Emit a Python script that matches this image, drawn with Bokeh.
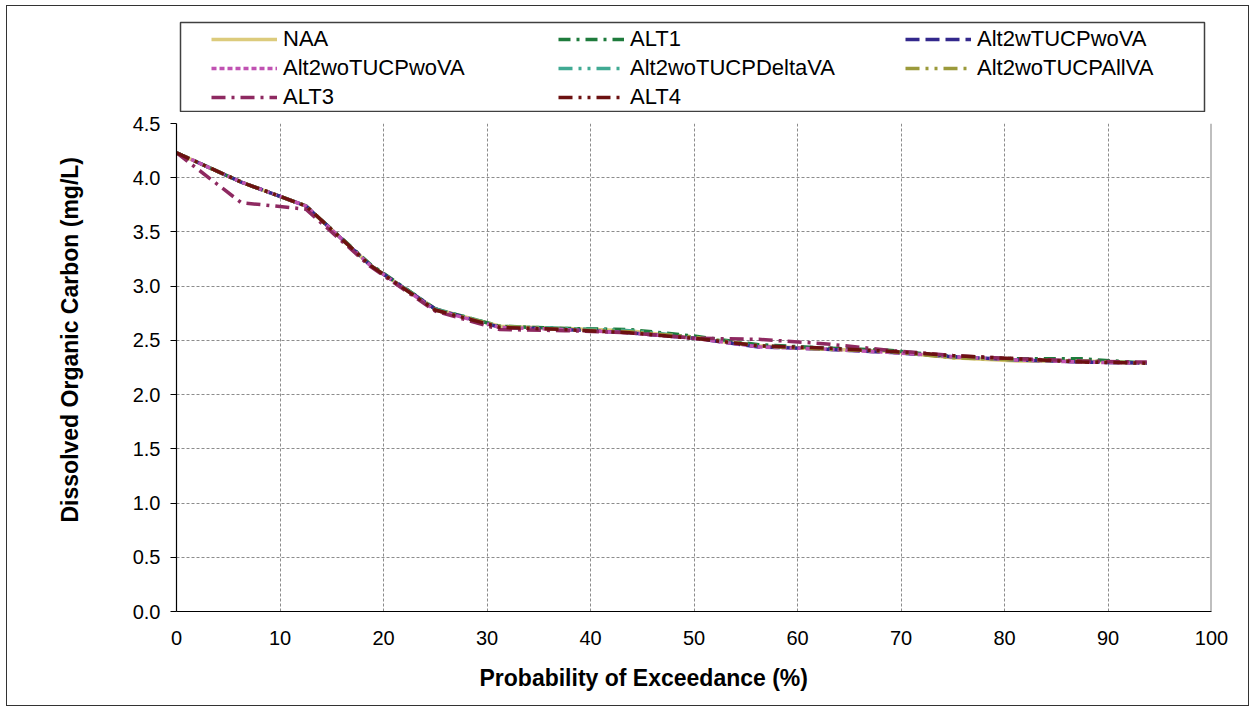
from bokeh.plotting import figure
from bokeh.layouts import column
from bokeh.models import (Legend, LegendItem, Title, Span,
                          NumeralTickFormatter, FixedTicker, Range1d)
from bokeh.embed import file_html
from bokeh.resources import INLINE

# ---------------- data ----------------
prob = [0, 6.25, 12.5, 18.75, 25, 31.25, 37.5, 43.75, 50, 56.25, 62.5, 68.75, 75, 81.25, 87.5, 93.75]

naa = [4.23, 3.96, 3.74, 3.19, 2.79, 2.63, 2.61, 2.59, 2.52, 2.45, 2.42, 2.40, 2.34, 2.31, 2.31, 2.29]
alt1 = [4.23, 3.96, 3.74, 3.20, 2.79, 2.63, 2.61, 2.60, 2.54, 2.46, 2.43, 2.41, 2.35, 2.33, 2.33, 2.29]
alt2w_tucp_wova = [4.23, 3.96, 3.74, 3.19, 2.79, 2.62, 2.60, 2.57, 2.52, 2.44, 2.42, 2.39, 2.35, 2.32, 2.30, 2.29]
alt2wo_tucp_wova = [4.23, 3.96, 3.74, 3.19, 2.78, 2.62, 2.60, 2.57, 2.52, 2.44, 2.42, 2.39, 2.35, 2.32, 2.30, 2.29]
alt2wo_tucp_deltava = [4.23, 3.96, 3.74, 3.19, 2.79, 2.63, 2.61, 2.59, 2.53, 2.45, 2.43, 2.40, 2.35, 2.32, 2.31, 2.29]
alt2wo_tucp_allva = [4.23, 3.96, 3.74, 3.19, 2.78, 2.63, 2.60, 2.58, 2.53, 2.45, 2.42, 2.40, 2.34, 2.32, 2.31, 2.29]
alt3 = [4.23, 3.77, 3.71, 3.18, 2.77, 2.60, 2.59, 2.57, 2.52, 2.51, 2.47, 2.41, 2.36, 2.33, 2.31, 2.30]
alt4 = [4.23, 3.96, 3.74, 3.19, 2.78, 2.62, 2.60, 2.57, 2.52, 2.45, 2.43, 2.40, 2.36, 2.33, 2.30, 2.29]

series_names = ["NAA", "ALT1", "Alt2wTUCPwoVA", "Alt2woTUCPwoVA", "Alt2woTUCPDeltaVA",
                "Alt2woTUCPAllVA", "ALT3", "ALT4"]
series_values = [naa, alt1, alt2w_tucp_wova, alt2wo_tucp_wova, alt2wo_tucp_deltava,
                 alt2wo_tucp_allva, alt3, alt4]

x_ticks = [0, 10, 20, 30, 40, 50, 60, 70, 80, 90, 100]
y_ticks = [0.0, 0.5, 1.0, 1.5, 2.0, 2.5, 3.0, 3.5, 4.0, 4.5]

# ---------------- styles ----------------
colors = ["#DCCB7C", "#1E7B3C", "#33288C", "#C052B2", "#40AA93", "#9B9A3B", "#8E2961", "#6C1111"]
dashes = ["solid", "12 6 3 6", "14 6", "5 3", "14 6 3 6 3 6", "14 6 3 6 3 6", "14 6 3 6", "14 6 3 6 3 6"]
FONT = "Liberation Sans"

# ---------------- legend strip (its frame is the legend box) ----------------
lg = figure(width=1241, height=106, output_backend="svg", toolbar_location=None,
            x_range=Range1d(0, 100), y_range=Range1d(100, 101),
            x_axis_type=None, y_axis_type=None, frame_align=False,
            min_border_left=173, min_border_right=44, min_border_top=16, min_border_bottom=1,
            background_fill_color="white", border_fill_color="white")
lg.grid.visible = False
lg.outline_line_color = "#404040"
lg.outline_line_width = 1.5

items = []
for name, vals, c, d in zip(series_names, series_values, colors, dashes):
    r = lg.line(prob, vals, line_color=c, line_width=3.5, line_dash=d)
    items.append(LegendItem(label=name, renderers=[r]))

legend = Legend(items=items, orientation="horizontal", ncols=3,
                location=(31, 1), padding=0, spacing=3, margin=0,
                glyph_width=66, glyph_height=22, label_height=22, label_width=272,
                label_standoff=6, label_text_font=FONT, label_text_font_size="22px",
                label_text_color="black", border_line_alpha=0, background_fill_alpha=0)
lg.add_layout(legend, "center")

# ---------------- main chart ----------------
p = figure(width=1241, height=593, output_backend="svg", toolbar_location=None,
           x_range=Range1d(0, 100), y_range=Range1d(0, 4.5), frame_align=False,
           min_border_left=169, min_border_right=37, min_border_top=11, min_border_bottom=93,
           background_fill_color="white", border_fill_color="white")
p.outline_line_color = None

p.xaxis.ticker = FixedTicker(ticks=x_ticks)
p.yaxis.ticker = FixedTicker(ticks=y_ticks)
p.yaxis.formatter = NumeralTickFormatter(format="0.0")
for ax in (p.xaxis[0], p.yaxis[0]):
    ax.axis_line_color = "black"
    ax.axis_line_width = 1.2
    ax.major_label_text_font = FONT
    ax.major_label_text_font_size = "20px"
    ax.major_label_text_color = "black"
    ax.minor_tick_line_color = None
p.xaxis.major_tick_line_color = None
p.xaxis.major_label_standoff = 13
p.yaxis.major_tick_line_color = "black"
p.yaxis.major_tick_out = 6
p.yaxis.major_tick_in = 0
p.yaxis.major_label_standoff = 10

for g in (p.xgrid[0], p.ygrid[0]):
    g.grid_line_color = "#8c8c8c"
    g.grid_line_dash = "3 2"
    g.grid_line_width = 1
p.xgrid.ticker = FixedTicker(ticks=x_ticks)
p.ygrid.ticker = FixedTicker(ticks=y_ticks)

p.add_layout(Span(location=100, dimension="height", line_color="#808080", line_width=2))

for name, vals, c, d in zip(series_names, series_values, colors, dashes):
    p.line(prob, vals, line_color=c, line_width=3.5, line_dash=d)

p.add_layout(Title(text="Probability of Exceedance (%)", align="left", offset=303, standoff=30,
                   text_font=FONT, text_font_size="23px", text_font_style="bold",
                   text_color="black"), "below")
p.add_layout(Title(text="Dissolved Organic Carbon (mg/L)", align="left", offset=89, standoff=94,
                   text_font=FONT, text_font_size="23px", text_font_style="bold",
                   text_color="black"), "left")

layout = column(lg, p, spacing=0,
                styles={"border": "1px solid #333333", "margin-left": "6px", "margin-top": "5px"})

open("out.html", "w").write(file_html(layout, INLINE))
